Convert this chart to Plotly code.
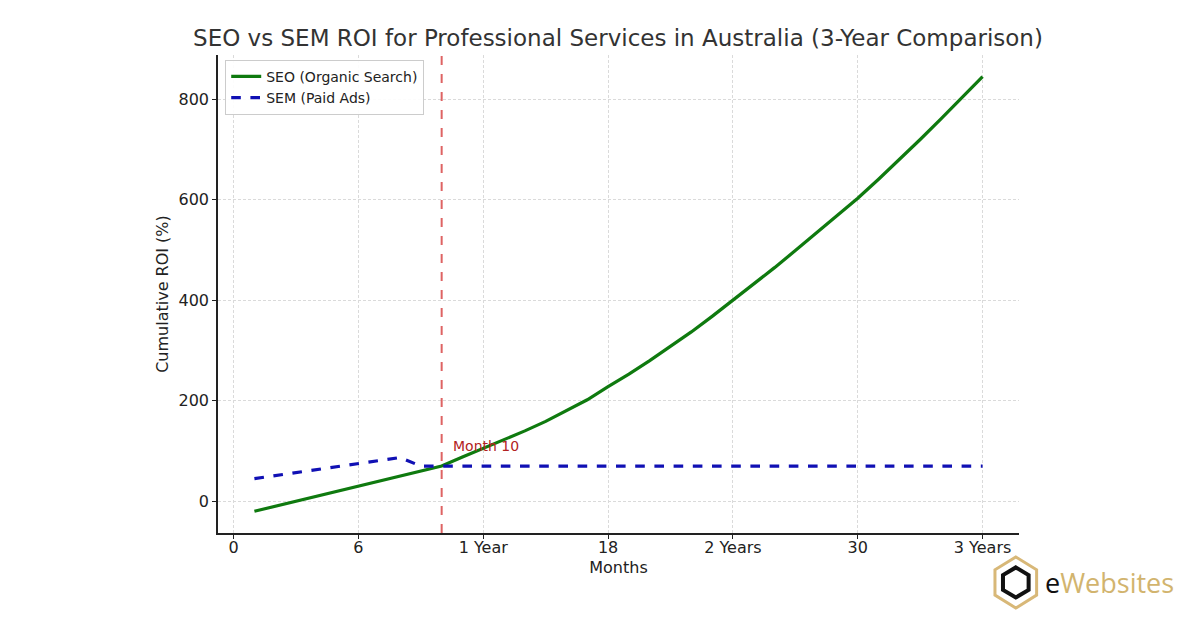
import plotly.graph_objects as go

months = list(range(1, 37))
seo_roi = [-20, -10, 0, 10, 20, 30, 40, 50, 60, 70,
           88, 105, 122, 140, 159, 180, 202, 228, 253, 280,
           308, 337, 368, 400, 432, 465, 499, 533, 568, 603,
           641, 680, 720, 761, 803, 845]
sem_roi = [45, 51, 57, 63, 69, 75, 81, 87, 70, 70,
           70, 70, 70, 70, 70, 70, 70, 70, 70, 70,
           70, 70, 70, 70, 70, 70, 70, 70, 70, 70,
           70, 70, 70, 70, 70, 70]
tick_vals = [0, 6, 12, 18, 24, 30, 36]
tick_text = ["0", "6", "1 Year", "18", "2 Years", "30", "3 Years"]
y_ticks = [0, 200, 400, 600, 800]
break_even_month = 10

FONT = "DejaVu Sans"

fig = go.Figure()
fig.add_trace(go.Scatter(x=months, y=seo_roi, mode="lines", name="SEO (Organic Search)",
                         line=dict(color="#0f7a0f", width=3.2)))
fig.add_trace(go.Scatter(x=months, y=sem_roi, mode="lines", name="SEM (Paid Ads)",
                         line=dict(color="#1010b4", width=3.2, dash="dash")))

fig.add_shape(type="line", x0=break_even_month, x1=break_even_month, y0=0, y1=1,
              xref="x", yref="paper",
              line=dict(color="rgba(214,60,60,0.8)", width=2, dash="dash"))
fig.add_annotation(x=break_even_month + 0.45, y=110, text="Month 10", showarrow=False,
                   xanchor="left", yanchor="middle",
                   font=dict(family=FONT, size=14, color="#b22222"))

# logo (paper coords relative to plot area: x 218..1019, y 533..55)
fig.add_shape(type="path", xref="paper", yref="paper",
              path="M 0.996 -0.050 L 1.022 -0.077 L 1.022 -0.130 L 0.996 -0.157 L 0.970 -0.130 L 0.970 -0.077 Z",
              line=dict(color="#d8b878", width=3), fillcolor="white", layer="above")
fig.add_shape(type="path", xref="paper", yref="paper",
              path="M 0.996 -0.072 L 1.012 -0.088 L 1.012 -0.119 L 0.996 -0.135 L 0.980 -0.119 L 0.980 -0.088 Z",
              line=dict(color="#111", width=4), fillcolor="white", layer="above")
fig.add_annotation(xref="paper", yref="paper", x=1.030, y=-0.103, xanchor="left", yanchor="middle",
                   text="e<span style='color:#d2b46e'>Websites</span>", showarrow=False,
                   font=dict(family="Open Sans", size=27, color="#111"))

fig.update_layout(
    width=1200, height=630,
    paper_bgcolor="white", plot_bgcolor="white",
    margin=dict(l=218, r=181, t=55, b=97),
    title=dict(text="SEO vs SEM ROI for Professional Services in Australia (3-Year Comparison)",
               x=0.515, xanchor="center", y=0.94, yanchor="middle",
               font=dict(family=FONT, size=23, color="#333")),
    font=dict(family=FONT, color="#222"),
    legend=dict(x=0.009, y=0.99, xanchor="left", yanchor="top",
                bgcolor="rgba(255,255,255,0.9)", bordercolor="#ccc", borderwidth=1,
                font=dict(family=FONT, size=14, color="#222"), tracegroupgap=0),
    showlegend=True,
    hovermode=False,
)
fig.update_xaxes(range=[-0.75, 37.75], tickvals=tick_vals, ticktext=tick_text,
                 showgrid=True, gridcolor="#dadada", griddash="3px,2px", gridwidth=0.8,
                 showline=True, linecolor="#222", linewidth=1.5, ticks="outside", ticklen=4,
                 tickcolor="#222", tickfont=dict(size=16, color="#222"), zeroline=False,
                 ticklabelstandoff=-5,
                 title=dict(text="Months", font=dict(size=16, color="#222"), standoff=6))
fig.update_yaxes(range=[-63.25, 888.25], tickvals=y_ticks,
                 showgrid=True, gridcolor="#dadada", griddash="3px,2px", gridwidth=0.8,
                 showline=True, linecolor="#222", linewidth=1.5, ticks="outside", ticklen=4,
                 tickcolor="#222", tickfont=dict(size=16, color="#222"), zeroline=False,
                 title=dict(text="Cumulative ROI (%)", font=dict(size=16, color="#222"), standoff=6))

fig.write_html("out.html")
